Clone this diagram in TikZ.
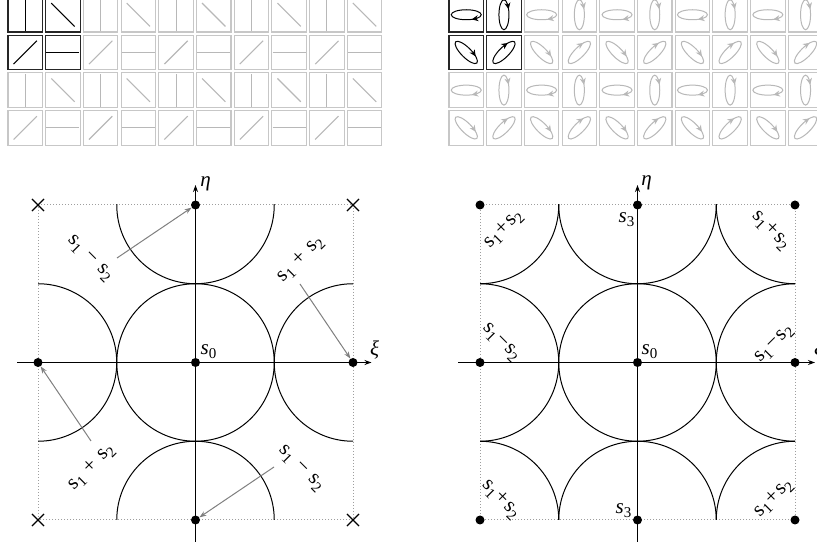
\documentclass[tikz,border=0pt]{standalone}
\usepackage{fontspec}
\setmainfont{Liberation Serif}
\usetikzlibrary{arrows.meta,shapes.misc}
\newcommand{\su}[1]{s\raisebox{-4.5pt}{\fontsize{15}{15}\selectfont #1}}
\newcommand{\si}[1]{\textit{s}\raisebox{-4.5pt}{\fontsize{15}{15}\selectfont #1}}
\begin{document}
\begin{tikzpicture}[x=1pt,y=1pt,
  lab/.style={font=\fontsize{21}{24}\selectfont, inner sep=0pt},
  dot/.style={circle,fill=black,inner sep=0pt,minimum size=9pt},
  xmark/.style={cross out,draw=black,line width=1.1pt,inner sep=0pt,minimum size=11pt},
  sq/.style={draw=black!38,dash pattern=on 1pt off 2pt,line width=1pt},
  circ/.style={draw=black,line width=1pt},
  axis/.style={draw=black,line width=1.1pt,-{Stealth[length=7pt,width=5pt]}},
  garrow/.style={draw=black!50,line width=1pt,-{Stealth[length=7pt,width=5pt]}},
  etip/.style={-{Stealth[length=6.5pt,width=6pt,inset=2pt]},line width=1pt},
]
\useasboundingbox (0,0) rectangle (817,546);
\fill[white] (0,0) rectangle (817,546);

% ---------- left grid (linear states)
\foreach \dr/\dc/\ang in {0/0/90,0/1/-45,1/0/45,1/1/0}{
 \foreach \r in {0,2}{
  \foreach \c in {0,2,4,6,8}{
   \pgfmathsetmacro\cx{25.25+37.7*(\c+\dc)}
   \pgfmathsetmacro\cy{531.25-37.7*(\r+\dr)}
   \pgfmathtruncatemacro\isb{(\r==0)&&(\c==0)}
   \ifnum\isb=1 \def\cola{black}\def\colb{black!85}\else\def\cola{black!28}\def\colb{black!22}\fi
   \draw[draw=\colb,line width=1.1pt] (\cx-17.25,\cy-17.25) rectangle (\cx+17.25,\cy+17.25);
   \draw[draw=\cola,line width=1.1pt,shift={(\cx,\cy)},rotate=\ang] (-16.5,0) -- (16.5,0);
  }}}

% ---------- right grid (elliptical states)
\foreach \dr/\dc/\ang/\pa/\pb/\qa/\qb in {0/0/0/9.5/-3.9/5.5/-4.7,0/1/90/9.5/-3.9/5.5/-4.7,1/0/-45/5.5/4.7/9.5/3.9,1/1/45/5.5/4.7/9.5/3.9}{
 \foreach \r in {0,2}{
  \foreach \c in {0,2,4,6,8}{
   \pgfmathsetmacro\cx{466.25+37.7*(\c+\dc)}
   \pgfmathsetmacro\cy{531.25-37.7*(\r+\dr)}
   \pgfmathtruncatemacro\isb{(\r==0)&&(\c==0)}
   \ifnum\isb=1 \def\cola{black}\def\colb{black!85}\else\def\cola{black!28}\def\colb{black!22}\fi
   \draw[draw=\colb,line width=1.1pt] (\cx-17.25,\cy-17.25) rectangle (\cx+17.25,\cy+17.25);
   \begin{scope}[shift={(\cx,\cy)},rotate=\ang]
    \draw[draw=\cola,line width=1pt] (0,0) ellipse [x radius=15,y radius=5];
    \draw[draw=\cola,fill=\cola,etip] (\pa,\pb) -- (\qa,\qb);
   \end{scope}
  }}}

% ---------- lower left diagram
\begin{scope}[shift={(195.5,183.5)}]
 \draw[sq] (-157.5,-157.5) rectangle (157.5,157.5);
 \begin{scope}
  \clip (-157.5,-157.5) rectangle (157.5,157.5);
  \foreach \p in {(0,0),(157.5,0),(-157.5,0),(0,157.5),(0,-157.5)}
   \draw[circ] \p circle[radius=78.75];
 \end{scope}
 \draw[axis] (-178.5,0) -- (176,0);
 \draw[axis] (0,-179.5) -- (0,177.5);
 \node[dot] (L0) at (0,0) {};
 \node[dot] (Lt) at (0,157.5) {};
 \node[dot] (Lb) at (0,-157.5) {};
 \node[dot] (Ll) at (-157.5,0) {};
 \node[dot] (Lr) at (157.5,0) {};
 \node[xmark] (Ltl) at (-157.5,157.5) {};
 \node[xmark] (Ltr) at (157.5,157.5) {};
 \node[xmark] (Lbl) at (-157.5,-157.5) {};
 \node[xmark] (Lbr) at (157.5,-157.5) {};
 \node[lab] (Lxi) at (179,12) {\textit{ξ}};
 \node[lab] (Leta) at (10,179) {\textit{η}};
 \node[lab] (Ls0) at (13,11) {\si{0}};
 \node[lab,rotate=-45] (La1) at (-106,104) {\su{1}\hspace{7pt}−\hspace{7pt}\su{2}};
 \node[lab,rotate=45] (La2) at (105,103) {\su{1}\hspace{7pt}+\hspace{7pt}\su{2}};
 \node[lab,rotate=45] (La3) at (-104,-105) {\su{1}\hspace{7pt}+\hspace{7pt}\su{2}};
 \node[lab,rotate=-45] (La4) at (105,-106) {\su{1}\hspace{7pt}−\hspace{7pt}\su{2}};
 \coordinate (Lf1) at (-78.5,104.5);
 \coordinate (Lf2) at (104.5,78.5);
 \coordinate (Lf3) at (-104.5,-78.5);
 \coordinate (Lf4) at (78.5,-104.5);
 \draw[garrow] (Lf1) -- (Lt);
 \draw[garrow] (Lf2) -- (Lr);
 \draw[garrow] (Lf3) -- (Ll);
 \draw[garrow] (Lf4) -- (Lb);
\end{scope}

% ---------- lower right diagram
\begin{scope}[shift={(637.5,183.5)}]
 \draw[sq] (-157.5,-157.5) rectangle (157.5,157.5);
 \begin{scope}
  \clip (-157.5,-157.5) rectangle (157.5,157.5);
  \foreach \p in {(0,0),(157.5,0),(-157.5,0),(0,157.5),(0,-157.5),(157.5,157.5),(-157.5,157.5),(157.5,-157.5),(-157.5,-157.5)}
   \draw[circ] \p circle[radius=78.75];
 \end{scope}
 \draw[axis] (-179.5,0) -- (177.5,0);
 \draw[axis] (0,-179.5) -- (0,177.5);
 \node[dot] (R0) at (0,0) {};
 \node[dot] (Rt) at (0,157.5) {};
 \node[dot] (Rb) at (0,-157.5) {};
 \node[dot] (Rl) at (-157.5,0) {};
 \node[dot] (Rr) at (157.5,0) {};
 \node[dot] (Rtl) at (-157.5,157.5) {};
 \node[dot] (Rtr) at (157.5,157.5) {};
 \node[dot] (Rbl) at (-157.5,-157.5) {};
 \node[dot] (Rbr) at (157.5,-157.5) {};
 \node[lab] (Rxi) at (181,12) {\textit{ξ}};
 \node[lab] (Reta) at (9,180) {\textit{η}};
 \node[lab] (Rs0) at (12,11) {\si{0}};
 \node[lab] (Rs3t) at (-11,143) {\si{3}};
 \node[lab] (Rs3b) at (-14,-148) {\si{3}};
 \node[lab,rotate=45] (Rb1) at (-134,133) {\su{1}\hspace{1.5pt}+\hspace{1.5pt}\su{2}};
 \node[lab,rotate=-45] (Rb2) at (133,132) {\su{1}\hspace{1.5pt}+\hspace{1.5pt}\su{2}};
 \node[lab,rotate=-45] (Rb3) at (-137,20) {\su{1}\hspace{1.5pt}−\hspace{1.5pt}\su{2}};
 \node[lab,rotate=45] (Rb4) at (137,18) {\su{1}\hspace{1.5pt}−\hspace{1.5pt}\su{2}};
 \node[lab,rotate=-45] (Rb5) at (-137,-137) {\su{1}\hspace{1.5pt}+\hspace{1.5pt}\su{2}};
 \node[lab,rotate=45] (Rb6) at (136,-136) {\su{1}\hspace{1.5pt}+\hspace{1.5pt}\su{2}};
\end{scope}
\end{tikzpicture}
\end{document}
